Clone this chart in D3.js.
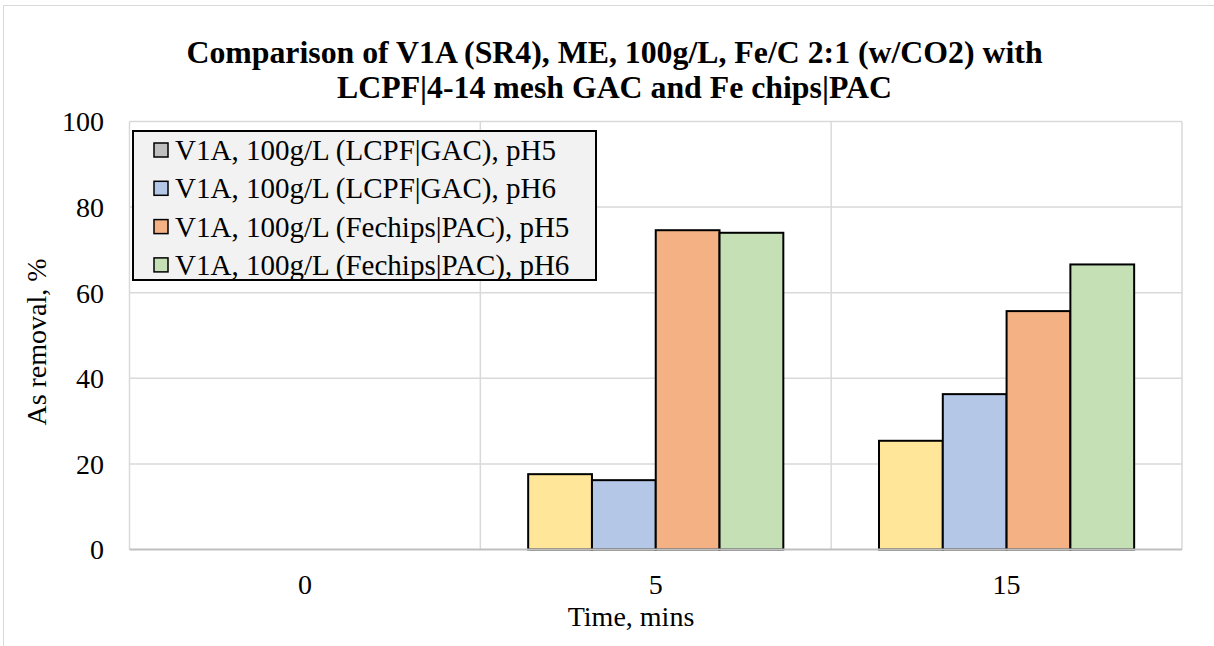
<!DOCTYPE html>
<html>
<head>
<meta charset="utf-8">
<script src="https://cdn.jsdelivr.net/npm/d3@7"></script>
<style>
  html, body { margin: 0; padding: 0; background: #ffffff; }
  svg { display: block; font-family: "Times New Roman", "Liberation Serif", serif; }
</style>
</head>
<body>
<svg id="chart" width="1214" height="646"></svg>
<script>
// Sampling times (minutes)
const categories = ["0", "5", "15"];

// As removal (%) for each run
const lcpfGacPH5 = [0, 17.6, 25.4];
const lcpfGacPH6 = [0, 16.2, 36.3];
const feChipsPacPH5 = [0, 74.6, 55.7];
const feChipsPacPH6 = [0, 74.0, 66.6];

const seriesNames = [
  "V1A, 100g/L (LCPF|GAC), pH5",
  "V1A, 100g/L (LCPF|GAC), pH6",
  "V1A, 100g/L (Fechips|PAC), pH5",
  "V1A, 100g/L (Fechips|PAC), pH6"
];
const seriesValues = [lcpfGacPH5, lcpfGacPH6, feChipsPacPH5, feChipsPacPH6];

const yTicks = [0, 20, 40, 60, 80, 100];

const titleLines = [
  "Comparison of V1A (SR4), ME, 100g/L, Fe/C 2:1 (w/CO2) with",
  "LCPF|4-14 mesh GAC and Fe chips|PAC"
];

// Styling
const barFill = ["#ffe699", "#b4c7e7", "#f4b183", "#c5e0b4"];
const legendFill = ["#bfbfbf", "#b4c7e7", "#f4b183", "#c5e0b4"];
const gapWidth = 1.5; // gap between clusters, relative to one bar width

const svg = d3.select("#chart");
const plot = { left: 129.5, right: 1182, top: 121.5, bottom: 549.5 };

// outer chart frame (extends past the canvas on the right and bottom)
svg.append("rect")
  .attr("x", 3.5).attr("y", 5.5)
  .attr("width", 1400).attr("height", 800)
  .attr("fill", "#ffffff").attr("stroke", "#d9d9d9").attr("stroke-width", 1);

const x0 = d3.scaleBand().domain(categories).range([plot.left, plot.right]).padding(0);
const y = d3.scaleLinear().domain([0, 100]).range([plot.bottom, plot.top]);

const bw = x0.bandwidth();
const barW = bw / (seriesNames.length + gapWidth);
const x1 = d3.scaleBand().domain(d3.range(seriesNames.length))
  .range([barW * gapWidth / 2, bw - barW * gapWidth / 2]).padding(0);

// horizontal gridlines
svg.append("g").selectAll("line").data(yTicks.filter(d => d > 0)).join("line")
  .attr("x1", plot.left).attr("x2", plot.right)
  .attr("y1", d => y(d)).attr("y2", d => y(d))
  .attr("stroke", "#d9d9d9").attr("stroke-width", 1.5);

// vertical gridlines at category boundaries
const bounds = categories.map(c => x0(c)).concat([x0(categories[categories.length - 1]) + bw]);
svg.append("g").selectAll("line").data(bounds).join("line")
  .attr("x1", d => d).attr("x2", d => d)
  .attr("y1", plot.top).attr("y2", plot.bottom)
  .attr("stroke", "#d9d9d9").attr("stroke-width", 1.5);

// bars
const barData = [];
categories.forEach((c, ci) => {
  seriesValues.forEach((vals, si) => {
    barData.push({ cat: c, s: si, v: vals[ci] });
  });
});
svg.append("g").selectAll("rect").data(barData.filter(d => d.v > 0)).join("rect")
  .attr("x", d => x0(d.cat) + x1(d.s))
  .attr("y", d => y(d.v))
  .attr("width", x1.bandwidth())
  .attr("height", d => y(0) - y(d.v))
  .attr("fill", d => barFill[d.s])
  .attr("stroke", "#000000").attr("stroke-width", 2);

// category axis line
svg.append("line")
  .attr("x1", plot.left).attr("x2", plot.right)
  .attr("y1", y(0)).attr("y2", y(0))
  .attr("stroke", "#bfbfbf").attr("stroke-width", 2);

// y tick labels
svg.append("g").selectAll("text").data(yTicks).join("text")
  .attr("x", 104).attr("y", d => y(d))
  .attr("dy", "0.35em")
  .attr("text-anchor", "end")
  .attr("font-size", 28)
  .attr("fill", "#000")
  .text(d => d);

// x tick labels
svg.append("g").selectAll("text").data(categories).join("text")
  .attr("x", d => x0(d) + bw / 2).attr("y", 594)
  .attr("text-anchor", "middle")
  .attr("font-size", 28)
  .attr("fill", "#000")
  .text(d => d);

// axis titles
svg.append("text")
  .attr("x", 631).attr("y", 626)
  .attr("text-anchor", "middle").attr("font-size", 28).attr("fill", "#000")
  .text("Time, mins");

svg.append("text")
  .attr("transform", `translate(46, 342) rotate(-90)`)
  .attr("text-anchor", "middle").attr("font-size", 28).attr("fill", "#000")
  .text("As removal, %");

// title
svg.append("g").selectAll("text").data(titleLines).join("text")
  .attr("x", 614.5).attr("y", (d, i) => 63 + i * 35)
  .attr("text-anchor", "middle")
  .attr("font-size", 31.8).attr("font-weight", "bold").attr("fill", "#000")
  .text(d => d);

// legend
const lg = svg.append("g");
lg.append("rect")
  .attr("x", 133).attr("y", 131)
  .attr("width", 463).attr("height", 149)
  .attr("fill", "#f2f2f2").attr("stroke", "#000").attr("stroke-width", 2);
const items = lg.selectAll("g.item").data(seriesNames).join("g")
  .attr("class", "item")
  .attr("transform", (d, i) => `translate(0, ${150 + i * 38.3})`);
items.append("rect")
  .attr("x", 154).attr("y", -7)
  .attr("width", 14).attr("height", 14)
  .attr("fill", (d, i) => legendFill[i])
  .attr("stroke", "#000").attr("stroke-width", 1.5);
items.append("text")
  .attr("x", 175).attr("y", 0).attr("dy", "0.35em")
  .attr("font-size", 29).attr("fill", "#000")
  .text(d => d);
</script>
</body>
</html>
